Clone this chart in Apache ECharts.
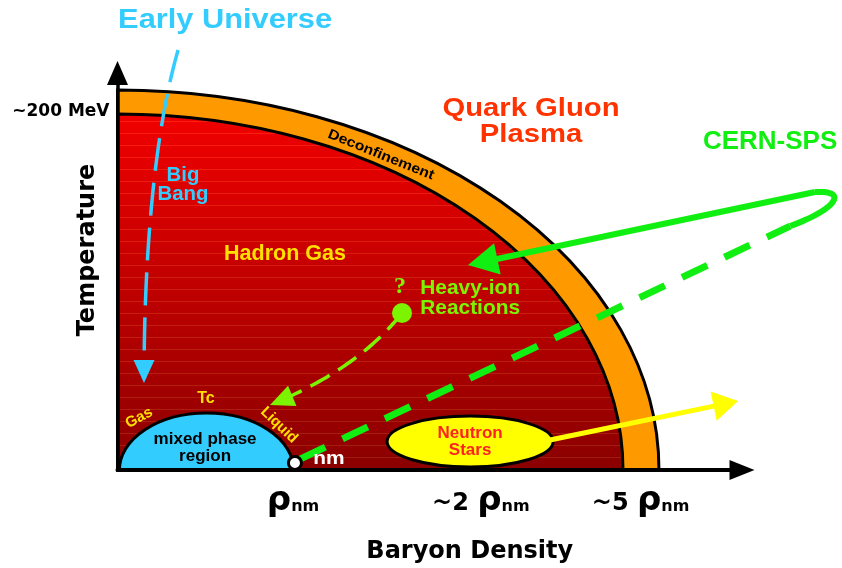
<!DOCTYPE html>
<html>
<head>
<meta charset="utf-8">
<title>Phase diagram of nuclear matter</title>
<script src="https://cdn.jsdelivr.net/npm/echarts@6.0.0/dist/echarts.min.js"></script>
<style>
  html, body { margin: 0; padding: 0; background: #fff; }
  #main { width: 842px; height: 568px; }
</style>
</head>
<body>
<div id="main"></div>
<script>
// x = baryon density (units of rho_nm), y = temperature (MeV)
const densityTicks = [1, 2.07, 2.98];
const densityLabels = ['ρnm', '~2 ρnm', '~5 ρnm'];
const tempTicks = [200];
const tempLabels = ['~200 MeV'];

// quarter ellipses from the origin: [density semi-axis, temperature semi-axis]
const qgpOuter = [3.085, 212.3];
const hadronEdge = [2.88, 198.9];
// [centre density, centre T, half width, half height]
const mixedPhase = [0.507, 0, 0.496, 31.8];
const neutronStars = [2.009, 15.9, 0.473, 14.2];
const nuclearMatter = [1.011, 3.9];
const heavyIonStart = [1.621, 87.7];

// arrow paths: 2 points = straight, 3 = quadratic, 4 = cubic bezier
const earlyUniversePath = [[0.345, 234.6], [0.214, 189.9], [0.151, 122.9], [0.151, 48.6]];
const heavyIonPath = [[1.621, 87.7], [1.370, 56.4], [0.869, 36.3]];
const spsOutPath = [[1.040, 6.1], [3.832, 136.3]];
const spsTurnPath = [[3.832, 136.3], [4.088, 145.3], [4.174, 156.4], [3.974, 155.3]];
const spsInPath = [[3.974, 155.3], [1.997, 114.5]];
const neutronStarPath = [[2.464, 16.8], [3.536, 38.5]];

// annotations
const noteTexts = ['Early Universe', 'Big\nBang', 'Hadron Gas', 'Quark Gluon\nPlasma', 'CERN-SPS',
  'Deconfinement', '?', 'Heavy-ion\nReactions', 'Gas', 'Tc', 'Liquid', 'mixed phase\nregion', 'nm',
  'Neutron\nStars'];
const notePos = [[0.613, 251.4], [0.373, 159.2], [0.954, 120.7], [2.356, 194.2], [3.718, 183.2],
  [1.501, 176.0], [1.610, 102.2], [2.009, 96.1], [0.123, 29.1], [0.504, 39.7], [0.920, 25.1],
  [0.499, 12.3], [1.205, 6.1], [2.009, 15.6]];

const SANS = '"DejaVu Sans", sans-serif';
const ARIAL = '"Liberation Sans", Arial, sans-serif';
const SERIF = '"Liberation Serif", "DejaVu Serif", serif';
const BLUE = '#33ccff';
const GREEN = '#11ee11';
const LIME = '#7cf400';
const YELLOW = '#ffe000';

const noteStyles = [
  { color: BLUE, size: 28, sx: 1.1 },
  { color: BLUE, size: 20, sx: 1.02, lh: 19 },
  { color: YELLOW, size: 21.5 },
  { color: '#ff3300', size: 25, sx: 1.17, lh: 26 },
  { color: GREEN, size: 26 },
  { color: '#000', size: 14, sx: 1.12, rot: -22 },
  { color: LIME, size: 24, family: SERIF },
  { color: LIME, size: 20.5, sx: 1.02, lh: 20 },
  { color: YELLOW, size: 15, rot: 28 },
  { color: YELLOW, size: 16 },
  { color: YELLOW, size: 15, rot: -44 },
  { color: '#000', size: 16.5, sx: 1.03, lh: 17 },
  { color: '#fff', size: 19, sx: 1.1 },
  { color: '#ff2222', size: 16.5, sx: 1.03, lh: 17 },
];

const arrows = [
  { path: earlyUniversePath, color: BLUE, width: 3.5, dash: [33, 12], head: [23, 21] },
  { path: heavyIonPath, color: LIME, width: 3.5, dash: [22, 10], head: [24, 22] },
  { path: spsOutPath, color: GREEN, width: 7, dash: [28, 19] },
  { path: spsTurnPath, color: GREEN, width: 6 },
  { path: spsInPath, color: GREEN, width: 6, head: [30, 32] },
  { path: neutronStarPath, color: '#ffff00', width: 5, head: [25, 30] },
];

// red hadron gas fill, bright at the top and dark at the bottom, with faint bands
function redFill(h) {
  const top = [242, 0, 0], bot = [138, 0, 0];
  const mix = (p, add) => 'rgb(' + top.map((c, k) => Math.round(c + (bot[k] - c) * p + add[k])).join(',') + ')';
  const none = [0, 0, 0], band = [16, 30, 14];
  const stops = [{ offset: 0, color: mix(0, none) }];
  const gap = 11.9 / h, half = 0.6 / h;
  for (let p = 9 / h; p < 1 - half; p += gap) {
    stops.push({ offset: p - half, color: mix(p, none) });
    stops.push({ offset: p - half, color: mix(p, band) });
    stops.push({ offset: p + half, color: mix(p, band) });
    stops.push({ offset: p + half, color: mix(p, none) });
  }
  stops.push({ offset: 1, color: mix(1, none) });
  return { type: 'linear', x: 0, y: 0, x2: 0, y2: 1, colorStops: stops };
}

function quarterItem(params, api) {
  const o = api.coord([0, 0]);
  const e = api.coord([api.value(0), api.value(1)]);
  const rx = e[0] - o[0], ry = o[1] - e[1];
  const d = 'M' + o[0] + ',' + o[1] + ' L' + (o[0] + rx) + ',' + o[1] +
    ' A' + rx + ',' + ry + ' 0 0 0 ' + o[0] + ',' + (o[1] - ry) + ' Z';
  return {
    type: 'path',
    shape: { pathData: d },
    style: { fill: params.dataIndex === 1 ? redFill(ry) : '#ff9900', stroke: '#000', lineWidth: 3 }
  };
}

function ellipseItem(fill, half) {
  return function (params, api) {
    const c = api.coord([api.value(0), api.value(1)]);
    const s = api.size([api.value(2), api.value(3)]);
    const l = (c[0] - s[0]) + ',' + c[1], r = (c[0] + s[0]) + ',' + c[1];
    const arc = ' A' + s[0] + ',' + s[1] + ' 0 0 1 ';
    const d = half ? 'M' + l + arc + r + ' Z' : 'M' + l + arc + r + arc + l + ' Z';
    return { type: 'path', shape: { pathData: d }, style: { fill: fill, stroke: '#000', lineWidth: 3 } };
  };
}

function bez(p, t) {
  let q = p.map(a => a.slice());
  for (let k = q.length - 1; k > 0; k--) {
    for (let i = 0; i < k; i++) {
      q[i] = [q[i][0] + (q[i + 1][0] - q[i][0]) * t, q[i][1] + (q[i + 1][1] - q[i][1]) * t];
    }
  }
  return q[0];
}

function arrowItem(params, api) {
  const a = arrows[params.dataIndex];
  const p = a.path.map(pt => api.coord(pt));
  let pts = p.length === 2 ? p.slice() : Array.from({ length: 41 }, (_, i) => bez(p, i / 40));
  const children = [];
  if (a.head) {
    const tip = p[p.length - 1], prev = p[p.length - 2];
    const len = Math.hypot(tip[0] - prev[0], tip[1] - prev[1]);
    const ux = (tip[0] - prev[0]) / len, uy = (tip[1] - prev[1]) / len;
    const L = a.head[0], W = a.head[1] / 2, cut = L * 0.7;
    pts = pts.filter(q => Math.hypot(q[0] - tip[0], q[1] - tip[1]) > cut);
    pts.push([tip[0] - ux * cut, tip[1] - uy * cut]);
    const bx = tip[0] - ux * L, by = tip[1] - uy * L;
    children.push({
      type: 'polygon',
      shape: { points: [tip, [bx - uy * W, by + ux * W], [bx + uy * W, by - ux * W]] },
      style: { fill: a.color }
    });
  }
  children.unshift({
    type: 'polyline',
    shape: { points: pts },
    style: { stroke: a.color, lineWidth: a.width, lineDash: a.dash || null, fill: 'none' }
  });
  return { type: 'group', children: children };
}

function noteItem(params, api) {
  const i = params.dataIndex;
  const st = noteStyles[i];
  const pos = api.coord([api.value(0), api.value(1)]);
  return {
    type: 'text',
    x: pos[0],
    y: pos[1],
    rotation: (st.rot || 0) * Math.PI / 180,
    scaleX: st.sx || 1,
    style: {
      text: noteTexts[i],
      fill: st.color,
      font: 'bold ' + st.size + 'px ' + (st.family || ARIAL),
      align: 'center',
      verticalAlign: 'middle',
      lineHeight: st.lh
    }
  };
}

function densityLabel(v) {
  let best = 0;
  densityTicks.forEach((t, i) => { if (Math.abs(t - v) < Math.abs(densityTicks[best] - v)) best = i; });
  const parts = densityLabels[best].split('ρ');
  return (parts[0] ? '{t|' + parts[0] + '}' : '') + '{r|ρ}{s|' + parts[1] + '}';
}

const chart = echarts.init(document.getElementById('main'), null, { renderer: 'canvas' });

const option = {
  animation: false,
  backgroundColor: '#fff',
  grid: { left: 117.5, right: 100, top: 73, bottom: 98, containLabel: false, outerBoundsMode: 'none' },
  xAxis: {
    type: 'value', min: 0, max: 3.558, z: 10,
    name: 'Baryon Density', nameLocation: 'middle', nameGap: 70, nameMoveOverlap: false,
    nameTextStyle: { fontFamily: SANS, fontWeight: 'bold', fontSize: 24, color: '#000', padding: [0, 0, 0, 80] },
    axisLine: { lineStyle: { color: '#000', width: 4 }, symbol: ['none', 'triangle'], symbolSize: [20, 25] },
    axisTick: { show: false },
    splitLine: { show: false },
    axisLabel: {
      customValues: densityTicks,
      margin: 14,
      color: '#000',
      formatter: densityLabel,
      rich: {
        r: { fontFamily: SANS, fontWeight: 'bold', fontSize: 34, lineHeight: 34, verticalAlign: 'bottom', color: '#000' },
        s: { fontFamily: SANS, fontWeight: 'bold', fontSize: 16, lineHeight: 16, verticalAlign: 'bottom', color: '#000', padding: [0, 0, 3, 0] },
        t: { fontFamily: SANS, fontWeight: 'bold', fontSize: 24, lineHeight: 24, verticalAlign: 'bottom', color: '#000', padding: [0, 0, 2, 0] }
      }
    }
  },
  yAxis: {
    type: 'value', min: 0, max: 221.8, z: 10,
    name: 'Temperature', nameLocation: 'middle', nameGap: 18, nameRotate: 90, nameMoveOverlap: false,
    nameTextStyle: { fontFamily: SANS, fontWeight: 'bold', fontSize: 24, color: '#000', padding: [0, 0, 0, 43] },
    axisLine: { lineStyle: { color: '#000', width: 3.5 }, symbol: ['none', 'triangle'], symbolSize: [21, 24] },
    axisTick: { show: false },
    splitLine: { show: false },
    axisLabel: {
      customValues: tempTicks,
      margin: 8,
      fontFamily: SANS, fontWeight: 'bold', fontSize: 17, color: '#000',
      formatter: () => tempLabels[0]
    }
  },
  series: [
    { type: 'custom', name: 'phase boundary', renderItem: quarterItem, data: [qgpOuter, hadronEdge], z: 1, silent: true },
    { type: 'custom', name: 'mixed phase', renderItem: ellipseItem(BLUE, true), data: [mixedPhase], z: 2, silent: true },
    { type: 'custom', name: 'neutron stars', renderItem: ellipseItem('#ffff00', false), data: [neutronStars], z: 2, silent: true },
    { type: 'custom', name: 'paths', renderItem: arrowItem, data: arrows.map(a => a.path[0]), z: 3, silent: true },
    {
      type: 'scatter', name: 'nuclear matter', data: [nuclearMatter], symbolSize: 13, z: 4, silent: true,
      itemStyle: { color: '#fff', borderColor: '#000', borderWidth: 3, opacity: 1 }
    },
    {
      type: 'scatter', name: 'heavy-ion start', data: [heavyIonStart], symbolSize: 20, z: 4, silent: true,
      itemStyle: { color: LIME, opacity: 1 }
    },
    { type: 'custom', name: 'notes', renderItem: noteItem, data: notePos, z: 5, silent: true }
  ]
};

chart.setOption(option);
</script>
</body>
</html>
